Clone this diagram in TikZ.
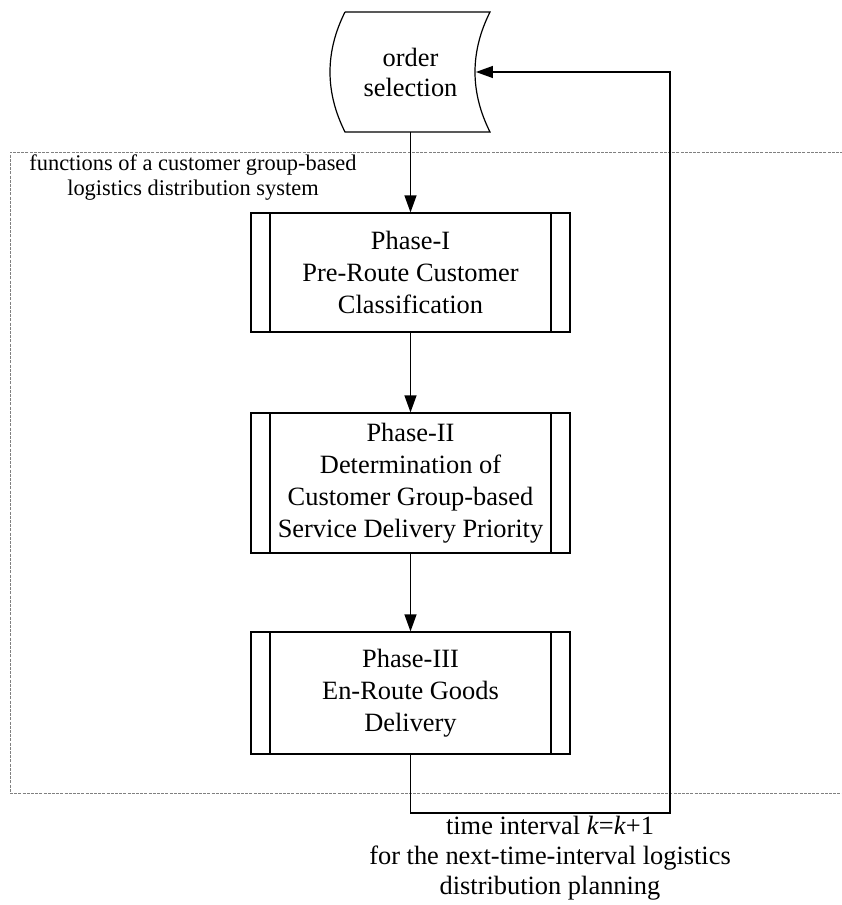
\documentclass[tikz,border=0pt]{standalone}
\usepackage{fontspec}
\setmainfont{Liberation Serif}
\usetikzlibrary{arrows.meta}

\tikzset{
    phasebox/.style={draw, line width=0.6pt, minimum width=159.5pt, inner sep=0pt,
        align=center, font=\fontsize{13.2}{16}\selectfont,
        path picture={
            \draw [line width=0.6pt] ([xshift=9.5pt]path picture bounding box.north west)
                -- ([xshift=9.5pt]path picture bounding box.south west);
            \draw [line width=0.6pt] ([xshift=-9.5pt]path picture bounding box.north east)
                -- ([xshift=-9.5pt]path picture bounding box.south east);
        }},
    flow/.style={-{Triangle[length=8.5pt, width=6pt]}, line width=0.6pt},
}

\begin{document}
\begin{tikzpicture}[x=0.5pt, y=-0.5pt]
    \useasboundingbox (0, 0) rectangle (841, 905);

    % system frame, open on the right
    \draw [gray, line width=0.5pt, dash pattern=on 1.5pt off 0.6pt]
        (860, 152) -- (10, 152) -- (10, 793) -- (860, 793);
    \node (frame) at (193, 177.5) [align=center, font=\fontsize{11.2}{12.5}\selectfont]
        {functions of a customer group-based\\logistics distribution system};

    % stored data shape
    \node (order) at (410.5, 72) [minimum width=65pt, minimum height=60pt, inner sep=0pt,
        align=center, font=\fontsize{13.2}{15}\selectfont] {order\\selection};
    \draw [line width=0.6pt] (345, 12) -- (490, 12)
        .. controls (470, 52) and (470, 92) .. (490, 132) -- (345, 132)
        .. controls (325, 92) and (325, 52) .. (345, 12);

    \node (p1) at (410.5, 272.5) [phasebox, minimum height=59.5pt]
        {Phase-I\\Pre-Route Customer\\Classification};
    \node (p2) at (410.5, 483) [phasebox, minimum height=70pt]
        {Phase-II\\Determination of\\Customer Group-based\\Service Delivery Priority};
    \node (p3) at (410.5, 693) [phasebox, minimum height=61pt]
        {Phase-III\\En-Route Goods\\Delivery};

    \draw [flow] (order) -- (p1);
    \draw [flow] (p1) -- (p2);
    \draw [flow] (p2) -- (p3);

    % next time interval
    \coordinate (turn) at (670, 813);
    \draw [flow] (p3.south) |- (turn) |- (order.east);
    \node (next) at (550, 858) [align=center, font=\fontsize{13.2}{15}\selectfont]
        {time interval \textit{k}=\textit{k}+1\\for the next-time-interval logistics\\distribution planning};
\end{tikzpicture}
\end{document}
